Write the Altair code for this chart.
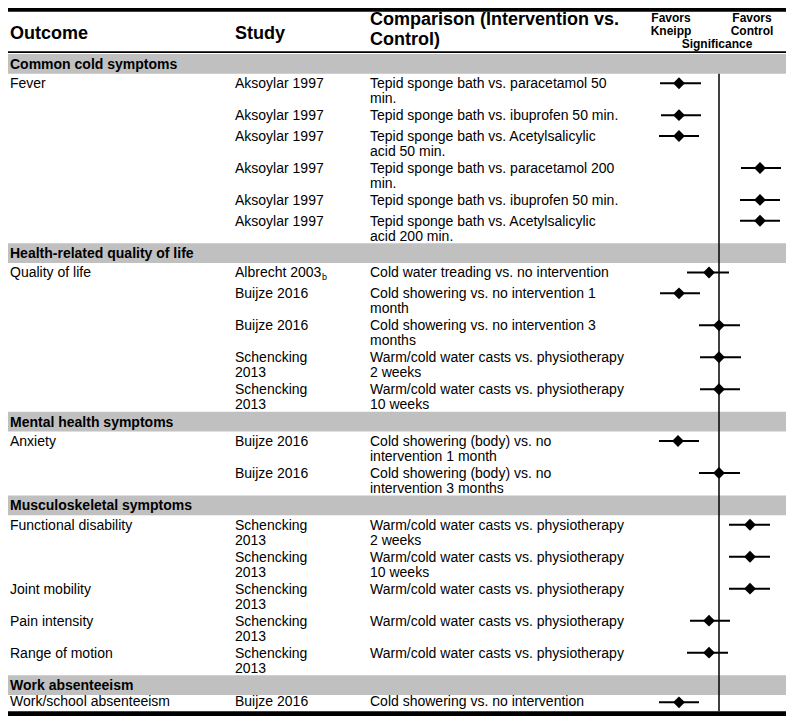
import altair as alt
import pandas as pd

# ---------------- data ----------------
sections = [
    "Common cold symptoms",
    "Health-related quality of life",
    "Mental health symptoms",
    "Musculoskeletal symptoms",
    "Work absenteeism",
]
row_section = [0, 0, 0, 0, 0, 0, 1, 1, 1, 1, 1, 2, 2, 3, 3, 3, 3, 3, 4]
outcomes = ["Fever", "", "", "", "", "",
            "Quality of life", "", "", "", "",
            "Anxiety", "",
            "Functional disability", "", "Joint mobility", "Pain intensity", "Range of motion",
            "Work/school absenteeism"]
studies = ["Aksoylar 1997"] * 6 + [
    "Albrecht 2003", "Buijze 2016", "Buijze 2016", "Schencking\n2013", "Schencking\n2013",
    "Buijze 2016", "Buijze 2016",
    "Schencking\n2013", "Schencking\n2013", "Schencking\n2013", "Schencking\n2013", "Schencking\n2013",
    "Buijze 2016"]
study_sub = ["", "", "", "", "", "", "b", "", "", "", "", "", "", "", "", "", "", "", ""]
comparisons = [
    "Tepid sponge bath vs. paracetamol 50\nmin.",
    "Tepid sponge bath vs. ibuprofen 50 min.",
    "Tepid sponge bath vs. Acetylsalicylic\nacid 50 min.",
    "Tepid sponge bath vs. paracetamol 200\nmin.",
    "Tepid sponge bath vs. ibuprofen 50 min.",
    "Tepid sponge bath vs. Acetylsalicylic\nacid 200 min.",
    "Cold water treading vs. no intervention",
    "Cold showering vs. no intervention 1\nmonth",
    "Cold showering vs. no intervention 3\nmonths",
    "Warm/cold water casts vs. physiotherapy\n2 weeks",
    "Warm/cold water casts vs. physiotherapy\n10 weeks",
    "Cold showering (body) vs. no\nintervention 1 month",
    "Cold showering (body) vs. no\nintervention 3 months",
    "Warm/cold water casts vs. physiotherapy\n2 weeks",
    "Warm/cold water casts vs. physiotherapy\n10 weeks",
    "Warm/cold water casts vs. physiotherapy",
    "Warm/cold water casts vs. physiotherapy",
    "Warm/cold water casts vs. physiotherapy",
    "Cold showering vs. no intervention",
]
# schematic significance position (0 = no difference; negative favours Kneipp)
est = [-4.0, -4.0, -4.0, 4.1, 4.1, 4.1, -1.0, -4.0, 0.0, 0.0, 0.0, -4.1, 0.0, 3.1, 3.1, 3.1, -1.0, -1.0, -4.0]
lo = [-5.9, -5.8, -6.0, 2.2, 2.1, 2.1, -3.2, -5.9, -2.0, -1.9, -1.9, -6.0, -2.0, 1.0, 1.0, 1.0, -2.9, -3.2, -6.0]
hi = [-1.8, -1.8, -2.0, 6.2, 6.1, 6.1, 1.0, -1.9, 2.1, 2.2, 2.1, -2.0, 2.1, 5.1, 5.1, 5.1, 1.1, 0.9, -2.0]

# ---------------- table layout (reference units) ----------------
BAND_H = 20.0
H1, H2 = 21.0, 32.25
FIRST = 9.5
cursor = 50.0
band_rows, rows = [], []
for s, name in enumerate(sections):
    band_rows.append(dict(section=name, y0=cursor, y1=cursor + BAND_H, yb=cursor + BAND_H / 2 + 5))
    cursor += BAND_H
    for i, sec in enumerate(row_section):
        if sec != s:
            continue
        n = max(studies[i].count("\n"), comparisons[i].count("\n")) + 1
        yc = cursor + FIRST
        rows.append(dict(outcome=outcomes[i], study=studies[i], sub=study_sub[i],
                         comparison=comparisons[i], est=est[i], lo=lo[i], hi=hi[i],
                         yc=yc, yb=yc + 5))
        cursor += H1 if n == 1 else H2
bottom = cursor

rows_df = pd.DataFrame(rows)
bands_df = pd.DataFrame(band_rows)
bars_df = pd.DataFrame({"y0": [0.0, 47.0, bottom], "y1": [4.0, 49.0, 724.0]})
vline_df = pd.DataFrame({"x": [0.0], "y0": [band_rows[0]["y1"]], "y1": [bottom]})

W, H = 778, 708
FONT = "Liberation Sans"
last_band_end = band_rows[-1]["y1"]
# piecewise: squeeze header and footer a little, keep the body close to 1:1
yscale = alt.Scale(domain=[0, 50, last_band_end, 724], range=[0, 46, 687, H], nice=False, zero=False)
xscale = alt.Scale(domain=[-5, 5], range=[661, 761], nice=False, zero=False)
Y = lambda f: alt.Y(f, scale=yscale, axis=None)
X = lambda f: alt.X(f, scale=xscale, axis=None)

base = alt.Chart(rows_df)

bands = alt.Chart(bands_df).mark_rect(color="#c0c0c0").encode(
    x=alt.value(0), x2=alt.value(W), y=Y("y0:Q"), y2="y1:Q")
band_text = alt.Chart(bands_df).mark_text(
    font=FONT, fontSize=14, fontWeight="bold", align="left", baseline="alphabetic", color="black"
).encode(x=alt.value(2), y=Y("yb:Q"), text="section:N")
bars = alt.Chart(bars_df).mark_rect(color="black").encode(
    x=alt.value(0), x2=alt.value(W), y=Y("y0:Q"), y2="y1:Q")

txt = dict(font=FONT, fontSize=14, align="left", baseline="alphabetic", color="black",
           lineBreak="\n", lineHeight=15)
outcome_t = base.mark_text(**txt).encode(x=alt.value(2), y=Y("yb:Q"), text="outcome:N")
study_t = base.mark_text(**txt).encode(x=alt.value(227), y=Y("yb:Q"), text="study:N")
sub_t = base.mark_text(font=FONT, fontSize=9, align="left", baseline="alphabetic",
                       color="black", dx=87, dy=3).encode(
    x=alt.value(227), y=Y("yb:Q"), text="sub:N")
comp_t = base.mark_text(**txt).encode(x=alt.value(362), y=Y("yb:Q"), text="comparison:N")

vline = alt.Chart(vline_df).mark_rule(color="black", strokeWidth=1.5).encode(
    x=X("x:Q"), y=Y("y0:Q"), y2="y1:Q")
ci = base.mark_rule(color="black", strokeWidth=2).encode(x=X("lo:Q"), x2="hi:Q", y=Y("yc:Q"))
dia = base.mark_point(shape="diamond", filled=True, size=140, color="black", opacity=1).encode(
    x=X("est:Q"), y=Y("yc:Q"))

hdr = alt.Chart(pd.DataFrame({"d": [0]}))
hbig = dict(font=FONT, fontSize=18, fontWeight="bold", baseline="alphabetic", color="black",
            lineBreak="\n", lineHeight=20)
h_out = hdr.mark_text(align="left", **hbig).encode(
    x=alt.value(2), y=alt.datum(33.7), text=alt.value("Outcome"))
h_study = hdr.mark_text(align="left", **hbig).encode(
    x=alt.value(227), y=alt.datum(33.7), text=alt.value("Study"))
h_comp = hdr.mark_text(align="left", **hbig).encode(
    x=alt.value(362), y=alt.datum(19.0), text=alt.value("Comparison (Intervention vs.\nControl)"))
hsm = dict(font=FONT, fontSize=12, fontWeight="bold", baseline="alphabetic", color="black",
           lineBreak="\n", lineHeight=13, align="center")
h_fk = hdr.mark_text(**hsm).encode(x=alt.value(663), y=alt.datum(14.7), text=alt.value("Favors\nKneipp"))
h_fc = hdr.mark_text(**hsm).encode(x=alt.value(744), y=alt.datum(14.7), text=alt.value("Favors\nControl"))
h_sig = hdr.mark_text(**hsm).encode(x=alt.value(709), y=alt.datum(43.0), text=alt.value("Significance"))

chart = alt.layer(
    bands, bars, vline, band_text, outcome_t, study_t, sub_t, comp_t, ci, dia,
    h_out, h_study, h_comp, h_fk, h_fc, h_sig
).properties(
    width=W, height=H, padding=0, autosize=alt.AutoSizeParams(type="none"),
    background="white"
).configure_view(stroke=None)

chart.save("out.html", embed_options={"renderer": "svg", "actions": False})
